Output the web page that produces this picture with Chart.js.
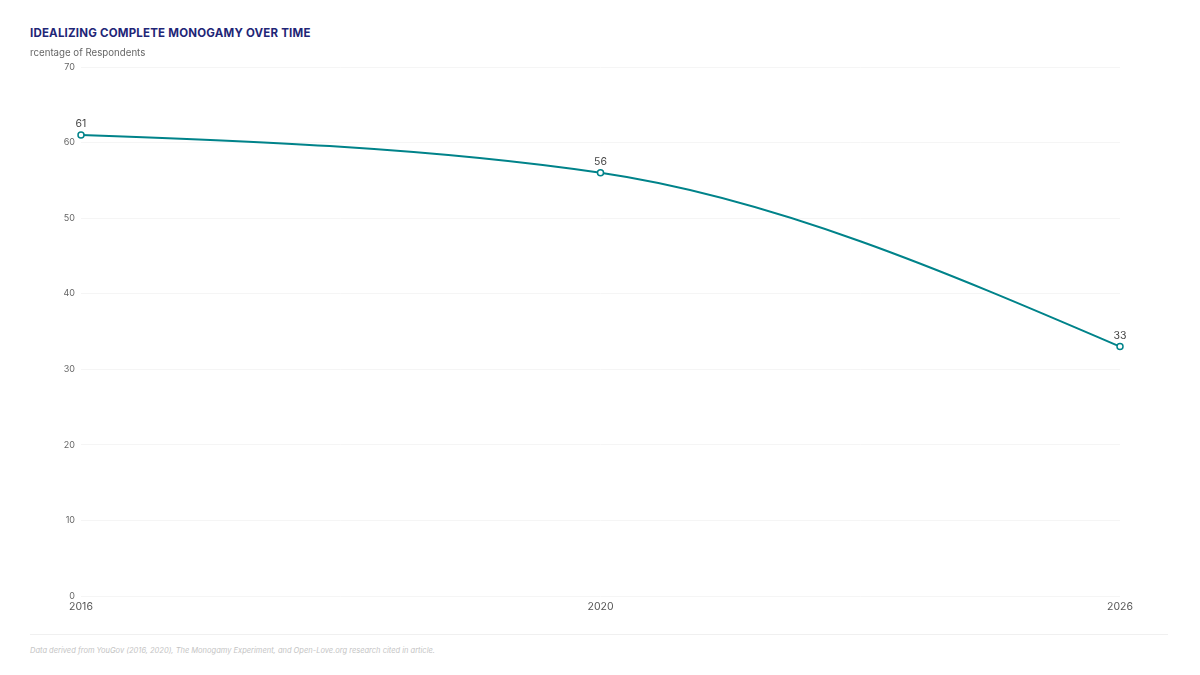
<!DOCTYPE html>
<html>
<head>
<meta charset="utf-8">
<script src="https://cdn.jsdelivr.net/npm/chart.js@4"></script>
<style>
  html, body { margin:0; padding:0; background:#fff; width:1200px; height:675px; overflow:hidden; font-family: Inter, "Noto Sans", sans-serif; }
  #title { position:absolute; left:30px; top:25.5px; font-size:11.5px; font-weight:700; color:#1f2677; letter-spacing:0.2px; }
  #wrap { position:absolute; left:30px; top:45px; width:1140px; height:575px; }
  #rule { position:absolute; left:30px; top:634px; width:1138px; height:1px; background:#f0f0f0; }
  #note { position:absolute; left:30px; top:646px; font-size:7.5px; font-style:italic; color:#c4c4c4; }
</style>
</head>
<body>
<div id="title">IDEALIZING COMPLETE MONOGAMY OVER TIME</div>
<div id="wrap"><canvas id="c"></canvas></div>
<div id="rule"></div>
<div id="note">Data derived from YouGov (2016, 2020), The Monogamy Experiment, and Open-Love.org research cited in article.</div>
<script>
const years = ["2016", "2020", "2026"];
const idealizingMonogamy = [61, 56, 33];
const yTicks = [0, 10, 20, 30, 40, 50, 60, 70];
const axisTitle = "Percentage of Respondents";

// monotone-X (d3 style) control points computed from the element positions given by the scales
function sgn(v) { return v < 0 ? -1 : 1; }
const monotoneX = {
  id: 'monotoneX',
  beforeDatasetDraw(chart, args) {
    const meta = args.meta;
    const p = meta.data;
    const n = p.length;
    if (n < 3) return;
    const s = [];
    for (let i = 0; i < n - 1; i++) s.push((p[i + 1].y - p[i].y) / (p[i + 1].x - p[i].x));
    const t = new Array(n);
    for (let i = 1; i < n - 1; i++) {
      const h0 = p[i].x - p[i - 1].x, h1 = p[i + 1].x - p[i].x;
      const s0 = s[i - 1], s1 = s[i];
      const q = (s0 * h1 + s1 * h0) / (h0 + h1);
      t[i] = (sgn(s0) + sgn(s1)) * Math.min(Math.abs(s0), Math.abs(s1), 0.5 * Math.abs(q)) || 0;
    }
    t[0] = (3 * s[0] - t[1]) / 2;
    t[n - 1] = (3 * s[n - 2] - t[n - 2]) / 2;
    for (let i = 0; i < n; i++) {
      const pt = p[i];
      if (i > 0) {
        const dx = (pt.x - p[i - 1].x) / 3;
        pt.cp1x = pt.x - dx; pt.cp1y = pt.y - dx * t[i];
      } else { pt.cp1x = pt.x; pt.cp1y = pt.y; }
      if (i < n - 1) {
        const dx = (p[i + 1].x - pt.x) / 3;
        pt.cp2x = pt.x + dx; pt.cp2y = pt.y + dx * t[i];
      } else { pt.cp2x = pt.x; pt.cp2y = pt.y; }
    }
    meta.dataset._pointsUpdated = true;
    meta.dataset._path = undefined;
  }
};

const overlay = {
  id: 'overlay',
  afterDatasetsDraw(chart) {
    const ctx = chart.ctx;
    const meta = chart.getDatasetMeta(0);
    ctx.save();
    ctx.font = '10.5px Inter, "Noto Sans", sans-serif';
    ctx.fillStyle = '#444';
    ctx.textAlign = 'center';
    ctx.textBaseline = 'middle';
    meta.data.forEach((pt, i) => {
      ctx.fillText(String(idealizingMonogamy[i]), pt.x, pt.y - 11);
    });
    ctx.font = '9.7px Inter, "Noto Sans", sans-serif';
    ctx.fillStyle = '#666';
    ctx.textAlign = 'left';
    const cut = ctx.measureText(axisTitle.slice(0, 2)).width;
    ctx.fillText(axisTitle, -cut, 8);
    ctx.restore();
  }
};

new Chart(document.getElementById('c'), {
  type: 'line',
  data: {
    labels: years,
    datasets: [{
      data: idealizingMonogamy,
      borderColor: '#00838a',
      borderWidth: 2,
      tension: 0.4,
      fill: false,
      pointRadius: 3,
      pointBorderWidth: 1.5,
      pointBackgroundColor: '#ffffff',
      pointBorderColor: '#00838a'
    }]
  },
  options: {
    responsive: true,
    maintainAspectRatio: false,
    animation: false,
    layout: { padding: { top: 22, right: 50, left: 0, bottom: 0 } },
    plugins: { legend: { display: false }, tooltip: { enabled: false } },
    scales: {
      x: {
        offset: false,
        grid: { display: false, drawTicks: false },
        border: { display: false },
        ticks: { color: '#555', font: { size: 10.5, family: 'Inter' }, padding: 5, maxRotation: 0 },
        afterFit(s) { s.height = 24; }
      },
      y: {
        min: 0, max: 70,
        afterBuildTicks(s) { s.ticks = yTicks.map(v => ({ value: v })); },
        grid: { color: '#f5f5f5', drawTicks: false },
        border: { display: false },
        ticks: { color: '#666', font: { size: 9, family: 'Inter' }, padding: 6 },
        afterFit(s) { s.width = 51; }
      }
    }
  },
  plugins: [monotoneX, overlay]
});
</script>
</body>
</html>
